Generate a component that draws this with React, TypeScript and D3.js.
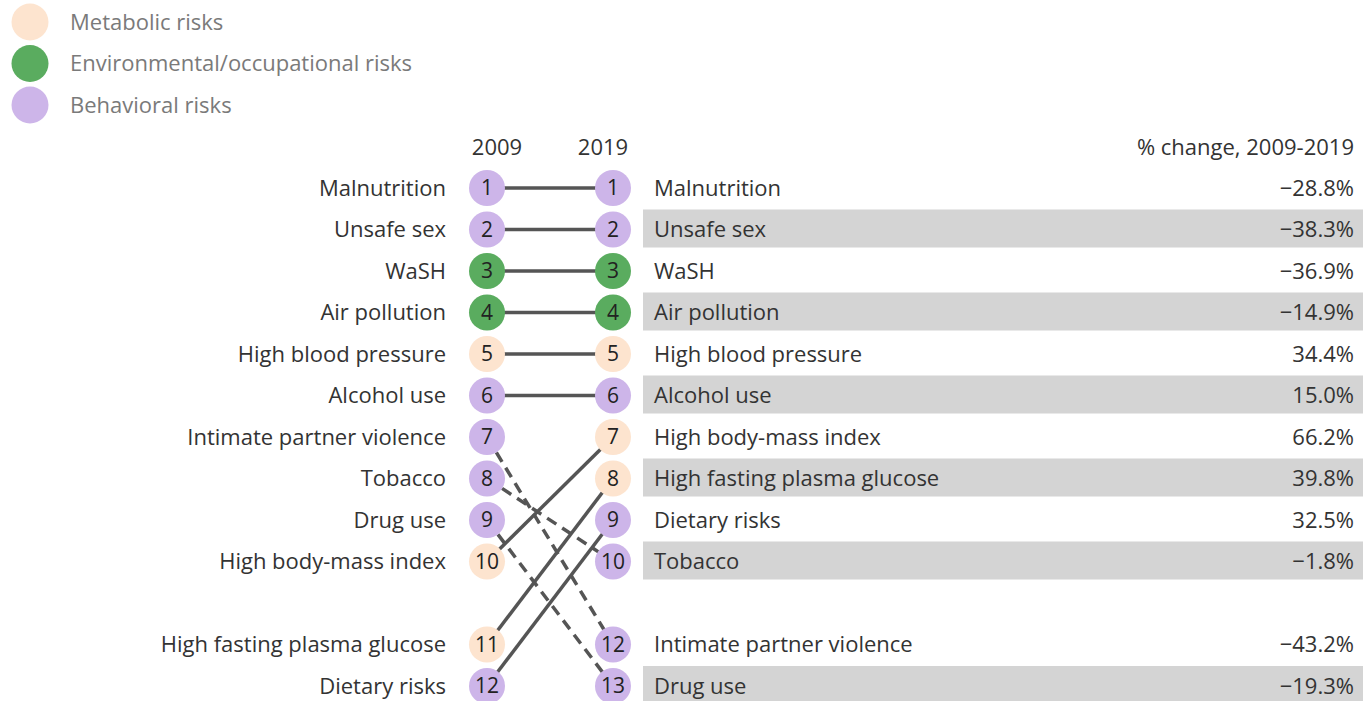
import React from 'react';
import * as d3 from 'd3';

// categories
const CAT_METABOLIC = 'Metabolic risks';
const CAT_ENV = 'Environmental/occupational risks';
const CAT_BEHAV = 'Behavioral risks';
const categories = [CAT_METABOLIC, CAT_ENV, CAT_BEHAV];
const catColors = ['#fde4cf', '#5aac5f', '#cdb5e9'];

// 2009 ranking (top-10 plus the ones that entered the top 10 by 2019)
const risks2009 = ['Malnutrition', 'Unsafe sex', 'WaSH', 'Air pollution', 'High blood pressure', 'Alcohol use',
  'Intimate partner violence', 'Tobacco', 'Drug use', 'High body-mass index', 'High fasting plasma glucose', 'Dietary risks'];
const ranks2009 = [1, 2, 3, 4, 5, 6, 7, 8, 9, 10, 11, 12];

// 2019 ranking
const risks2019 = ['Malnutrition', 'Unsafe sex', 'WaSH', 'Air pollution', 'High blood pressure', 'Alcohol use',
  'High body-mass index', 'High fasting plasma glucose', 'Dietary risks', 'Tobacco', 'Intimate partner violence', 'Drug use'];
const ranks2019 = [1, 2, 3, 4, 5, 6, 7, 8, 9, 10, 12, 13];
const pctChange = ['−28.8%', '−38.3%', '−36.9%', '−14.9%', '34.4%', '15.0%', '66.2%', '39.8%', '32.5%', '−1.8%', '−43.2%', '−19.3%'];

const riskCategory: Record<string, string> = {
  'Malnutrition': CAT_BEHAV,
  'Unsafe sex': CAT_BEHAV,
  'WaSH': CAT_ENV,
  'Air pollution': CAT_ENV,
  'High blood pressure': CAT_METABOLIC,
  'Alcohol use': CAT_BEHAV,
  'Intimate partner violence': CAT_BEHAV,
  'Tobacco': CAT_BEHAV,
  'Drug use': CAT_BEHAV,
  'High body-mass index': CAT_METABOLIC,
  'High fasting plasma glucose': CAT_METABOLIC,
  'Dietary risks': CAT_BEHAV,
};

const years = ['2009', '2019'];

const W = 1363;
const H = 701;
const FONT = '"Open Sans", Lato, sans-serif';
const FS = 22;
const TEXT = '#333';

// rows 1-10 are the top ten, row 11 is a gap, rows 12-13 hold the rest
const slotOf = (i: number) => (i < 10 ? i + 1 : i + 2);

const App = () => {
  const color = d3.scaleOrdinal<string, string>().domain(categories).range(catColors);
  const y = d3.scaleLinear().domain([1, 13]).range([188, 686]);
  const x = d3.scalePoint<string>().domain(years).range([487, 613]);
  const r = 18;

  const x0 = x('2009')!;
  const x1 = x('2019')!;

  const links = risks2009.map((name, i) => {
    const j = risks2019.indexOf(name);
    return {
      name,
      y0: y(slotOf(i)),
      y1: y(slotOf(j)),
      down: ranks2019[j] > ranks2009[i],
    };
  });

  return (
    <svg width={W} height={H} style={{ position: 'absolute', left: 0, top: 0 }} fontFamily={FONT}>
      {/* legend */}
      {categories.map((c, i) => (
        <g key={c} transform={`translate(0,${22 + i * 41.5})`}>
          <circle cx={30} cy={0} r={18.5} fill={color(c)} />
          <text x={70} y={0} dy="0.35em" fontSize={FS} fill="#7a7a7a">{c}</text>
        </g>
      ))}

      {/* headers */}
      <text x={x0 + 10} y={147} dy="0.35em" textAnchor="middle" fontSize={FS} fill={TEXT}>2009</text>
      <text x={x1 - 10} y={147} dy="0.35em" textAnchor="middle" fontSize={FS} fill={TEXT}>2019</text>
      <text x={1354} y={147} dy="0.35em" textAnchor="end" fontSize={FS} fill={TEXT}>% change, 2009-2019</text>

      {/* table bands */}
      {risks2019.map((name, i) => (i % 2 === 1 ? (
        <rect key={name} x={643} y={y(slotOf(i)) - 20} width={W - 643} height={38} fill="#d4d4d4" />
      ) : null))}

      {/* connecting lines */}
      {links.map((l) => (
        <line key={l.name} x1={x0} y1={l.y0} x2={x1} y2={l.y1}
          stroke="#555" strokeWidth={3.5} strokeDasharray={l.down ? '11,7' : null} />
      ))}

      {/* 2009 column */}
      {risks2009.map((name, i) => (
        <g key={name} transform={`translate(0,${y(slotOf(i))})`}>
          <text x={446} dy="0.35em" textAnchor="end" fontSize={FS} fill={TEXT}>{name}</text>
          <circle cx={x0} r={r} fill={color(riskCategory[name])} />
          <text x={x0} dy="0.35em" textAnchor="middle" fontSize={FS - 1} fill="#222">{ranks2009[i]}</text>
        </g>
      ))}

      {/* 2019 column */}
      {risks2019.map((name, i) => (
        <g key={name} transform={`translate(0,${y(slotOf(i))})`}>
          <circle cx={x1} r={r} fill={color(riskCategory[name])} />
          <text x={x1} dy="0.35em" textAnchor="middle" fontSize={FS - 1} fill="#222">{ranks2019[i]}</text>
          <text x={654} dy="0.35em" fontSize={FS} fill={TEXT}>{name}</text>
          <text x={1354} dy="0.35em" textAnchor="end" fontSize={FS} fill={TEXT}>{pctChange[i]}</text>
        </g>
      ))}
    </svg>
  );
};

export default App;
